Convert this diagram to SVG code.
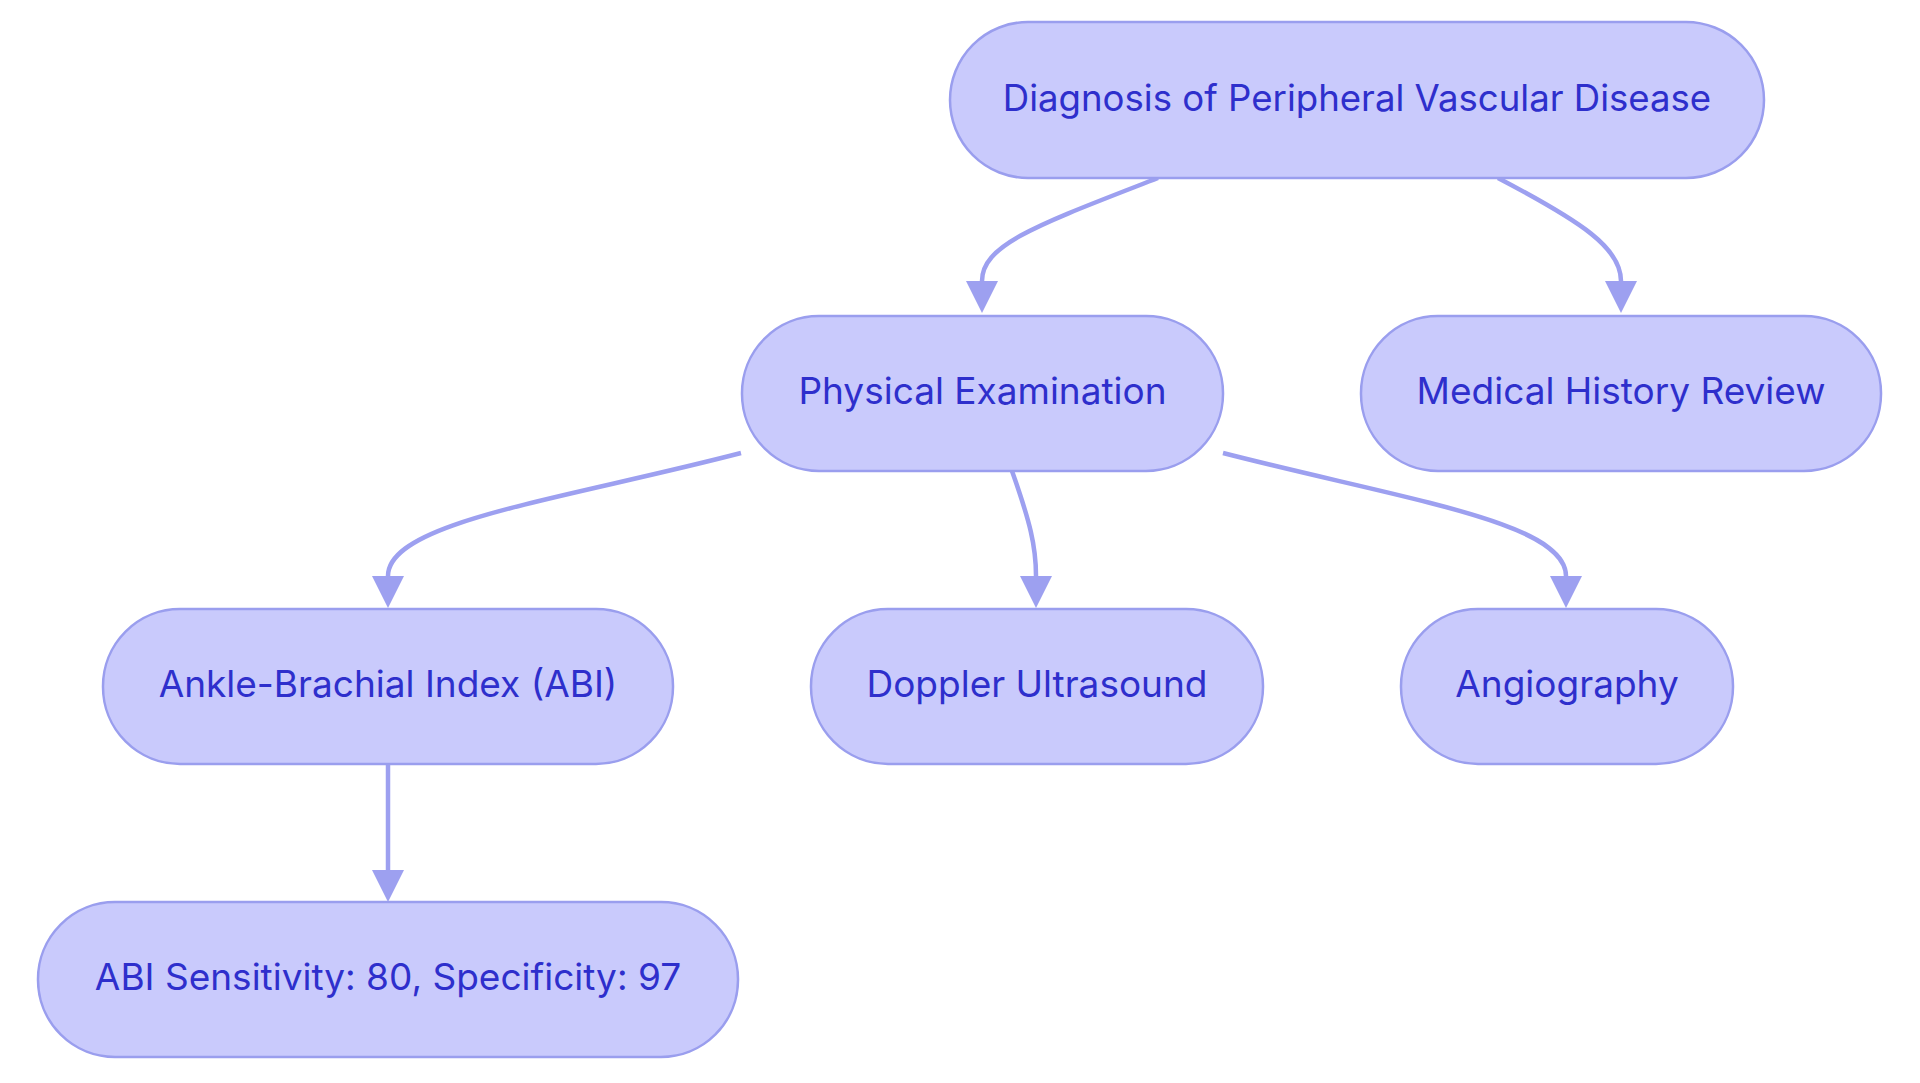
<svg xmlns="http://www.w3.org/2000/svg" width="1920" height="1083" viewBox="0 0 1920 1083">
<style>
.node rect{fill:#c9cafc;stroke:#9a9eee;stroke-width:2.5}
.node text{font-family:Inter,"Noto Sans",sans-serif;font-size:37px;fill:#2e2fcc;text-anchor:middle}
.edge{fill:none;stroke:#9da0f0;stroke-width:4.5}
</style>
<defs>
<marker id="arr" viewBox="0 0 10 10" refX="0" refY="5" markerUnits="userSpaceOnUse" markerWidth="32" markerHeight="32" orient="auto">
<path d="M0,0 L10,5 L0,10 z" fill="#9da0f0"/>
</marker>
</defs>
<rect width="1920" height="1083" fill="#ffffff"/>
<g id="connectors">
<path class="edge" d="M1158,178 C1040,224 982,244 982,281" marker-end="url(#arr)"/>
<path class="edge" d="M1498,178 C1582,222 1621,248 1621,281" marker-end="url(#arr)"/>
<path class="edge" d="M741,453 C560,500 388,522 388,576" marker-end="url(#arr)"/>
<path class="edge" d="M1012,471 C1030,522 1036,546 1036,576" marker-end="url(#arr)"/>
<path class="edge" d="M1223,453 C1406,500 1566,522 1566,576" marker-end="url(#arr)"/>
<path class="edge" d="M388,764 L388,870" marker-end="url(#arr)"/>
</g>
<g id="root" class="node">
<rect x="950" y="22" width="814" height="156" rx="78"/>
<text x="1357" y="111" style="font-size:36.6px">Diagnosis of Peripheral Vascular Disease</text>
</g>
<g id="physical" class="node">
<rect x="742" y="316" width="481" height="155" rx="77"/>
<text x="982.5" y="404">Physical Examination</text>
</g>
<g id="history" class="node">
<rect x="1361" y="316" width="520" height="155" rx="77"/>
<text x="1621" y="404">Medical History Review</text>
</g>
<g id="abi" class="node">
<rect x="103" y="609" width="570" height="155" rx="77"/>
<text x="388" y="697">Ankle-Brachial Index (ABI)</text>
</g>
<g id="doppler" class="node">
<rect x="811" y="609" width="452" height="155" rx="77"/>
<text x="1037" y="697">Doppler Ultrasound</text>
</g>
<g id="angio" class="node">
<rect x="1401" y="609" width="332" height="155" rx="77"/>
<text x="1567" y="697">Angiography</text>
</g>
<g id="sens" class="node">
<rect x="38" y="902" width="700" height="155" rx="77"/>
<text x="388" y="990">ABI Sensitivity: 80, Specificity: 97</text>
</g>
</svg>
